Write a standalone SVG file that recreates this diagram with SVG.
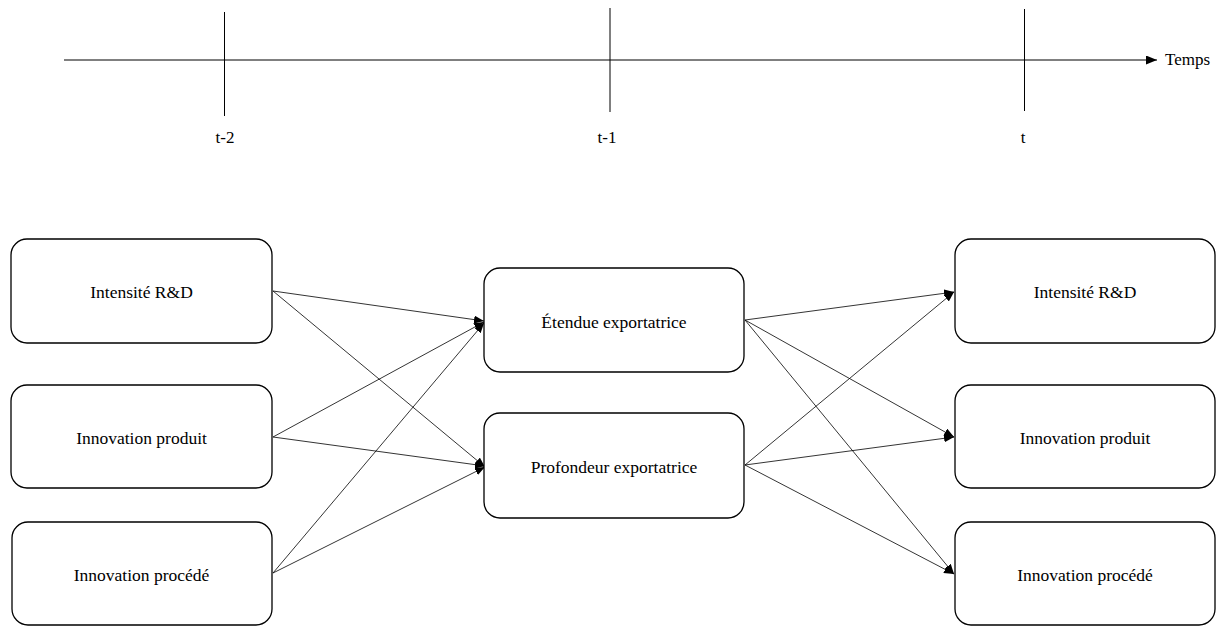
<svg xmlns="http://www.w3.org/2000/svg" width="1216" height="626" viewBox="0 0 1216 626">
<style>
.box{fill:#fff;stroke:#000;stroke-width:1.3}
.lbl{font-family:"Liberation Serif","Times New Roman",serif;font-size:17.5px;fill:#000;text-anchor:middle}
.tl{font-family:"Liberation Serif","Times New Roman",serif;font-size:17px;fill:#000}
.axis{stroke:#000;stroke-width:1;fill:none}
.conn{stroke:#000;stroke-width:0.8;fill:none;marker-end:url(#ah)}
</style>
<defs>
<marker id="ah" markerUnits="userSpaceOnUse" markerWidth="10" markerHeight="8" refX="10" refY="4" orient="auto">
<path d="M0,0 L10,4 L0,8 z" fill="#000"/>
</marker>
<marker id="axh" markerUnits="userSpaceOnUse" markerWidth="11" markerHeight="9" refX="11" refY="4.5" orient="auto">
<path d="M0,0 L11,4.5 L0,9 z" fill="#000"/>
</marker>
</defs>
<rect width="1216" height="626" fill="#fff"/>
<g id="timeline">
<line class="axis" x1="64" y1="60" x2="1157" y2="60" marker-end="url(#axh)"/>
<line class="axis" x1="224.5" y1="12" x2="224.5" y2="116"/>
<line class="axis" x1="610" y1="8" x2="610" y2="112"/>
<line class="axis" x1="1024.5" y1="9" x2="1024.5" y2="111"/>
<text class="tl" x="1165" y="65">Temps</text>
<text class="tl" x="225" y="143" text-anchor="middle">t-2</text>
<text class="tl" x="607" y="143" text-anchor="middle">t-1</text>
<text class="tl" x="1023" y="143" text-anchor="middle">t</text>
</g>
<g id="connectors">
<line class="conn" x1="273" y1="291" x2="484" y2="321"/>
<line class="conn" x1="273" y1="291" x2="485" y2="467"/>
<line class="conn" x1="273" y1="437" x2="484" y2="322"/>
<line class="conn" x1="273" y1="437" x2="485" y2="466"/>
<line class="conn" x1="273" y1="573" x2="484" y2="323"/>
<line class="conn" x1="273" y1="573" x2="485" y2="467"/>
<line class="conn" x1="745" y1="320" x2="954" y2="292"/>
<line class="conn" x1="745" y1="320" x2="954" y2="437"/>
<line class="conn" x1="745" y1="320" x2="954" y2="574"/>
<line class="conn" x1="745" y1="465" x2="954" y2="292"/>
<line class="conn" x1="745" y1="465" x2="954" y2="437"/>
<line class="conn" x1="745" y1="465" x2="954" y2="574"/>
</g>
<g id="left-rd"><rect class="box" x="11" y="239" width="261" height="104" rx="16"/><text class="lbl" x="141.5" y="298">Intensité R&amp;D</text></g>
<g id="left-prod"><rect class="box" x="11" y="385" width="261" height="103" rx="16"/><text class="lbl" x="141.5" y="444">Innovation produit</text></g>
<g id="left-proc"><rect class="box" x="12" y="522" width="260" height="103" rx="16"/><text class="lbl" x="141.5" y="581">Innovation procédé</text></g>
<g id="mid-etendue"><rect class="box" x="484" y="268" width="260" height="104" rx="16"/><text class="lbl" x="614" y="328">Étendue exportatrice</text></g>
<g id="mid-profondeur"><rect class="box" x="484" y="413" width="260" height="105" rx="16"/><text class="lbl" x="614" y="473">Profondeur exportatrice</text></g>
<g id="right-rd"><rect class="box" x="955" y="239" width="260" height="104" rx="16"/><text class="lbl" x="1085" y="298">Intensité R&amp;D</text></g>
<g id="right-prod"><rect class="box" x="955" y="385" width="260" height="103" rx="16"/><text class="lbl" x="1085" y="444">Innovation produit</text></g>
<g id="right-proc"><rect class="box" x="955" y="522" width="260" height="103" rx="16"/><text class="lbl" x="1085" y="581">Innovation procédé</text></g>
</svg>
